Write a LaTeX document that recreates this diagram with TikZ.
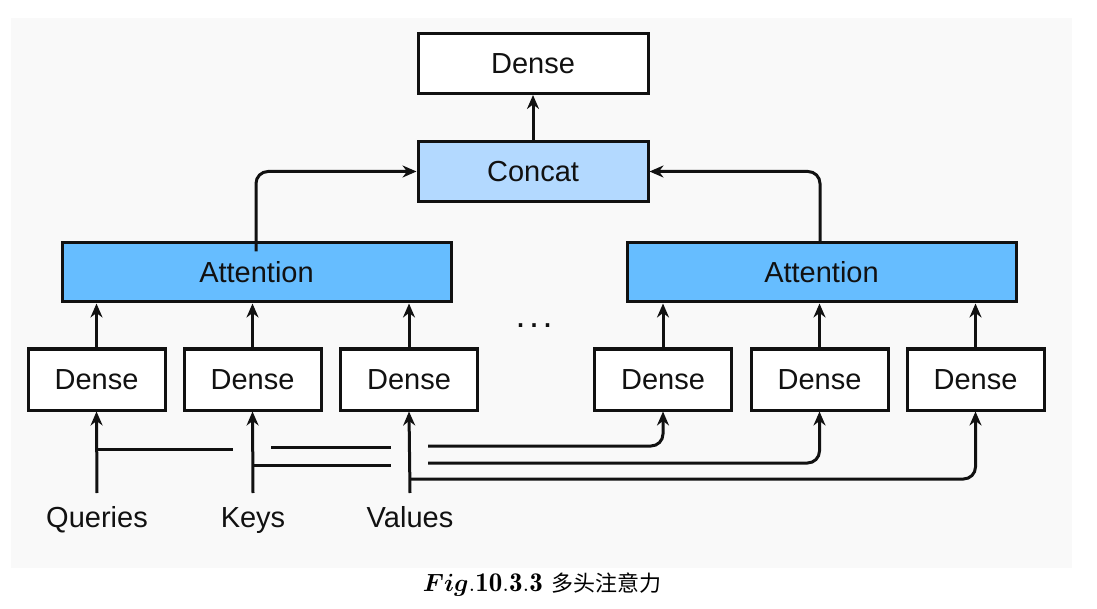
\documentclass[tikz,border=0pt]{standalone}
\usepackage{fontspec}
\usepackage{bm}
\usetikzlibrary{arrows.meta}
\newfontfamily\labfont{Liberation Sans}
\newfontfamily\cjkfont{Noto Sans CJK SC}
\definecolor{bggray}{HTML}{F9F9F9}
\definecolor{concatblue}{HTML}{B3D9FF}
\definecolor{attblue}{HTML}{66BDFF}
\definecolor{ink}{HTML}{111111}
\tikzset{
  x=1pt, y=-1pt,
  box/.style={draw=ink, line width=3pt, fill=white, font=\labfont\fontsize{29}{32}\selectfont, text=ink, inner sep=0pt},
  densebox/.style={box, minimum width=137pt, minimum height=61pt},
  topbox/.style={box, minimum width=230pt, minimum height=60pt},
  attbox/.style={box, fill=attblue, minimum width=389pt, minimum height=59pt},
  lbl/.style={font=\labfont\fontsize{29}{32}\selectfont, text=ink, inner sep=0pt, anchor=base},
  wire/.style={draw=ink, line width=3pt},
  arr/.style={wire, -{Stealth[length=14pt, width=12pt]}},
  rc/.style={rounded corners=12pt}
}
\begin{document}
\begin{tikzpicture}
\useasboundingbox (0,0) rectangle (1097,609);
\fill[bggray] (11,18) rectangle (1072,568);

\node[topbox] (topD) at (533,63.5) {Dense};
\node[topbox, fill=concatblue] (concat) at (533,171.5) {Concat};
\node[attbox] (attL) at (256.5,272.5) {Attention};
\node[attbox] (attR) at (821.5,272.5) {Attention};

\node[densebox] (d1) at (96.5,379.5) {Dense};
\node[densebox] (d2) at (252.5,379.5) {Dense};
\node[densebox] (d3) at (409,379.5) {Dense};
\node[densebox] (d4) at (663,379.5) {Dense};
\node[densebox] (d5) at (819.5,379.5) {Dense};
\node[densebox] (d6) at (975.5,379.5) {Dense};

\node[inner sep=0pt, anchor=base, text=ink, font=\labfont\fontsize{36}{40}\selectfont] (dots) at (534,327) {.\hspace{3.5pt}.\hspace{3.5pt}.};

\node[lbl] (Q) at (97,527) {Queries};
\node[lbl] (K) at (253,527) {Keys};
\node[lbl] (V) at (410,527) {Values};

\coordinate (qb) at (97,493);
\coordinate (kb) at (253,493);
\coordinate (vb) at (410,493);

% top connections
\draw[arr] (concat.north) -- (topD.south);
\draw[arr, rc] ([xshift=-0.5pt,yshift=-10pt]attL.north) |- (concat.west);
\draw[arr, rc] ([xshift=-1.5pt]attR.north) |- (concat.east);

% dense to attention
\foreach \d in {d1,d2,d3}{\draw[arr] (\d.north) -- (\d.north |- attL.south);}
\foreach \d in {d4,d5,d6}{\draw[arr] (\d.north) -- (\d.north |- attR.south);}

% inputs
\draw[arr] (qb) -- (d1.south);
\draw[arr] (kb) -- (d2.south);
\draw[arr] (vb) -- (d3.south);

% queries branch
\coordinate (q1) at (97,449);
\coordinate (q1e) at (233,449);
\coordinate (q2) at (271,447.5);
\coordinate (q2e) at (391,447.5);
\coordinate (q3) at (428,446);
\draw[wire] (q1) -- (q1e);
\draw[wire] (q2) -- (q2e);
\draw[arr, rc] (q3) -| (d4.south);

% keys branch
\coordinate (k1) at (253,465);
\coordinate (k1e) at (391,465);
\coordinate (k2) at (428,463);
\draw[wire] (k1) -- (k1e);
\draw[arr, rc] (k2) -| (d5.south);

% values branch
\coordinate (v1) at (410,479);
\draw[arr, rc] (v1) -| (d6.south);

% caption
\node[inner sep=0pt] (cap) at (542,585) {\fontsize{27}{30}\selectfont $\bm{Fig}\mathbf{.10.3.3}$\ \cjkfont\fontsize{22}{26}\selectfont 多头注意力};
\end{tikzpicture}
\end{document}
